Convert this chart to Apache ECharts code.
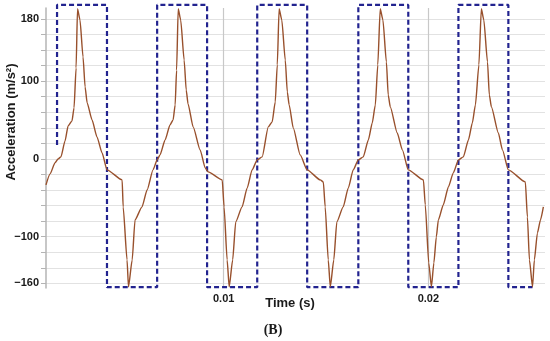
<!DOCTYPE html>
<html>
<head>
<meta charset="utf-8">
<script src="https://cdn.jsdelivr.net/npm/echarts@6/dist/echarts.min.js"></script>
<style>
html,body{margin:0;padding:0;background:#fff;}
#chart{width:550px;height:341px;}
</style>
</head>
<body>
<div id="chart"></div>
<script>
// Time (s) of each sample of the acceleration trace
const timeS = [
  0.00132,0.00152,0.00176,0.00191,0.00205,0.00225,0.00240,0.00259,0.00269,0.00279,0.00286,0.00298,0.00313,0.00323,0.00333,0.00357,0.00381,0.00406,0.00430,0.00504,0.00509,0.00528,0.00535,0.00553,0.00567,0.00601,0.00626,0.00655,0.00675,
  0.00689,0.00714,0.00738,0.00753,0.00763,0.00770,0.00778,0.00790,0.00807,0.00817,0.00826,0.00851,0.00885,0.00910,0.00924,0.00993,0.01002,0.01017,0.01027,0.01044,0.01059,0.01090,0.01115,0.01139,0.01164,
  0.01188,0.01218,0.01237,0.01252,0.01262,0.01271,0.01284,0.01301,0.01311,0.01320,0.01340,0.01374,0.01408,0.01472,0.01487,0.01496,0.01511,0.01521,0.01538,0.01553,0.01584,0.01609,0.01633,0.01658,
  0.01682,0.01707,0.01726,0.01741,0.01753,0.01765,0.01778,0.01795,0.01804,0.01814,0.01848,0.01873,0.01902,0.01976,0.01985,0.02002,0.02015,0.02027,0.02039,0.02049,0.02073,0.02098,0.02122,0.02147,
  0.02171,0.02196,0.02215,0.02230,0.02247,0.02259,0.02271,0.02289,0.02298,0.02308,0.02342,0.02362,0.02391,0.02474,0.02484,0.02494,0.02509,0.02518,0.02533,0.02548,0.02562
];
// Acceleration (m/s^2) at each sample
const accel = [
  -33.4,-19.3,-5.1,0,2.6,23.1,42.4,48.9,65.6,117,193,178.7,131,92.6,72,50.1,28.3,7.7,-14.1,-27,-61.7,-129.9,-164.6,-129.9,-78.4,-61.7,-39.9,-14.1,-1.3,
  5.1,24.4,43.7,50.1,69.4,114,193,178.7,127,88.7,70.7,41.1,11.6,-11.6,-16.7,-27,-61.7,-129.9,-164.6,-129.9,-81,-61.7,-37.3,-14.1,-1.3,
  2.6,41.1,47.6,73.3,120.9,193,178.7,127,86.1,69.4,39.9,5.1,-14.1,-27,-29.6,-61.7,-129.9,-164.6,-129.9,-81,-61.7,-37.3,-14.1,-1.3,
  2.6,24.4,46.3,69.4,120.9,193,178.7,124.7,82.3,66.9,33.4,11.6,-14.1,-27,-59.1,-133.7,-164.6,-133.7,-100.3,-78.4,-59.1,-36,-18,-1.3,
  2.6,24.4,46.3,69.4,120.9,193,178.7,124.7,82.3,66.9,33.4,11.6,-14.1,-29.6,-74.6,-129.9,-164.6,-129.9,-95.1,-78.4,-61.7
];
// Dashed square-wave outline of the positive / negative phases
const boxTime  = [0.00186,0.00186,0.00430,0.00430,0.00675,0.00675,0.00919,0.00919,0.01164,0.01164,0.01408,0.01408,0.01658,0.01658,0.01902,0.01902,0.02147,0.02147,0.02391,0.02391,0.02509];
const boxLevel = [18,198,198,-165,-165,198,198,-165,-165,198,198,-165,-165,198,198,-165,-165,198,198,-165,-165];

const yTickValues  = [-160,-140,-120,-100,-80,-60,-40,-20,0,20,40,60,80,100,120,140,160,180];
const yLabelValues = [-160,-100,0,100,180];
const xLabelValues = [0.01,0.02];

const yMin = -166, yMax = 194;
const xMin = 0.00132, xMax = 0.0257;

const chart = echarts.init(document.getElementById('chart'), null, {renderer:'canvas'});
const FONT = 'Liberation Sans, Arial, sans-serif';

const tracePts = timeS.map((t,i)=>[t,accel[i]]);
const boxPts = boxTime.map((t,i)=>[t,boxLevel[i]]);

chart.setOption({
  animation:false,
  backgroundColor:'#ffffff',
  grid:{left:46,right:5,top:8,bottom:53,containLabel:false},
  xAxis:{
    type:'value', min:xMin, max:xMax,
    axisLine:{show:false},
    axisTick:{show:false, customValues:xLabelValues},
    axisLabel:{customValues:xLabelValues, margin:5, color:'#1a1a1a', fontWeight:'bold', fontSize:11, fontFamily:FONT,
      formatter:v=>v.toFixed(2)},
    splitLine:{show:true, lineStyle:{color:'#c8c8c8', width:1.2}}
  },
  yAxis:{
    type:'value', min:yMin, max:yMax,
    axisLine:{show:true, lineStyle:{color:'#b4b4b4', width:1.5}},
    axisTick:{show:true, customValues:yTickValues, length:5, lineStyle:{color:'#b4b4b4'}},
    axisLabel:{customValues:yLabelValues, margin:7, color:'#1a1a1a', fontWeight:'bold', fontSize:11, fontFamily:FONT,
      formatter:v=> (v<0 ? '\u2212'+Math.abs(v) : String(v))},
    splitLine:{show:true, lineStyle:{color:'#e2e2e2', width:1}}
  },
  graphic:[
    {type:'text', x:11, y:122, rotation:Math.PI/2,
      style:{text:'Acceleration (m/s²)', fill:'#1a1a1a', font:'bold 13px '+FONT, align:'center', verticalAlign:'middle'}},
    {type:'text', x:290, y:303,
      style:{text:'Time (s)', fill:'#1a1a1a', font:'bold 13px '+FONT, align:'center', verticalAlign:'middle'}},
    {type:'text', x:273, y:330,
      style:{text:'(B)', fill:'#1a1a1a', font:'bold 14px "Liberation Serif", "Times New Roman", serif', align:'center', verticalAlign:'middle'}}
  ],
  series:[
    {type:'line', data:boxPts, symbol:'none', clip:false, z:3,
      lineStyle:{color:'#22238f', width:2.2, type:[5,3]}},
    {type:'line', data:tracePts, symbol:'none', clip:false, z:4, smooth:0.2, smoothMonotone:'x',
      lineStyle:{color:'#98502c', width:1.4}}
  ]
});
</script>
</body>
</html>
